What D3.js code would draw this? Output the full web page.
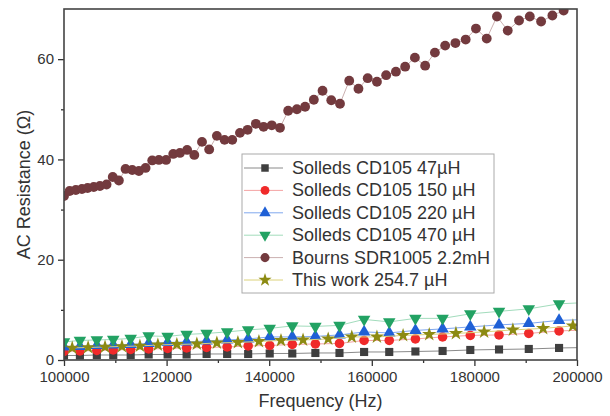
<!DOCTYPE html>
<html>
<head>
<meta charset="utf-8">
<script src="https://cdn.jsdelivr.net/npm/d3@7"></script>
<style>
  body { margin: 0; background: #fff; }
  text { font-family: "Liberation Sans", Arial, sans-serif; fill: #333; }
</style>
</head>
<body>
<div class="chart"></div>
<script>
// frequencies (Hz)
const freqLow = [100000, 103100, 106400, 109600, 113000, 116500, 120200, 123900, 127800, 131800, 135900, 140100,
  144500, 149000, 153700, 158500, 163400, 168500, 173800, 179200, 184800, 190600, 196500, 202600];
const freqStar = [101600, 104700, 108000, 111300, 114800, 118300, 122000, 125900, 129800, 133900, 138000, 142300,
  146600, 151500, 156100, 161000, 166100, 171200, 176400, 181900, 187500, 193400, 199200];
const freqBourns = [100000, 101100, 102300, 103500, 104600, 105800, 107000, 108300, 109500, 110700,
  112000, 113300, 114600, 115900, 117200, 118500, 119900, 121300, 122600, 124000,
  125400, 126900, 128300, 129800, 131300, 132800, 134300, 135800, 137400, 138900,
  140500, 142100, 143700, 145400, 147000, 148700, 150400, 152100, 153800, 155600,
  157400, 159200, 161000, 162800, 164700, 166500, 168400, 170400, 172300, 174300,
  176300, 178300, 180300, 182400, 184400, 186500, 188700, 190800, 193000, 195200, 197400];

// AC resistance (ohm)
const cd105_47 = [0.9, 0.9, 1.0, 1.0, 1.0, 1.1, 1.1, 1.1, 1.2, 1.2, 1.2, 1.3, 1.3, 1.4, 1.4, 1.6, 1.6, 1.7, 1.8, 2.0, 2.1, 2.2, 2.4, 2.5];
const cd105_150 = [1.7, 1.8, 1.9, 2.0, 2.1, 2.2, 2.3, 2.4, 2.5, 2.6, 2.8, 2.9, 3.1, 3.2, 3.3, 3.9, 3.9, 4.2, 4.6, 4.9, 5.0, 5.3, 5.8, 6.0];
const cd105_220 = [2.6, 2.7, 2.9, 3.0, 3.1, 3.3, 3.5, 3.6, 3.8, 4.0, 4.2, 4.6, 4.6, 4.7, 5.0, 5.6, 5.4, 5.9, 6.2, 6.6, 7.0, 7.3, 7.9, 8.1];
const cd105_470 = [3.6, 3.9, 4.0, 4.1, 4.3, 4.8, 4.7, 5.1, 5.3, 5.6, 6.0, 6.3, 6.8, 6.7, 6.9, 8.1, 7.6, 8.3, 8.3, 9.2, 9.7, 10.2, 11.2, 11.5];
const bourns22 = [32.7, 33.7, 33.9, 34.1, 34.3, 34.5, 34.7, 35.0, 36.5, 35.8,
  38.1, 37.9, 37.7, 38.3, 39.8, 39.9, 39.9, 41.1, 41.3, 41.9,
  40.9, 43.5, 42.0, 44.7, 43.9, 43.9, 45.3, 45.9, 47.1, 46.5,
  46.8, 46.3, 49.7, 50.0, 50.5, 51.9, 53.7, 51.8, 51.1, 55.7,
  54.1, 56.2, 55.5, 56.8, 57.5, 58.5, 60.3, 58.7, 61.3, 62.7,
  63.2, 63.9, 66.1, 64.1, 68.5, 65.7, 67.7, 68.5, 67.5, 68.7, 69.7];
const thisWork = [2.4, 2.5, 2.6, 2.7, 2.8, 3.0, 3.1, 3.2, 3.4, 3.5, 3.7, 3.9, 4.0, 4.2, 4.6, 4.6, 4.9, 5.1, 5.3, 5.6, 6.0, 6.3, 6.8];

const xTicks = [100000, 120000, 140000, 160000, 180000, 200000];
const xMinorTicks = [110000, 130000, 150000, 170000, 190000];
const yTicks = [0, 20, 40, 60];
const yMinorTicks = [10, 30, 50];

const series = [
  { name: 'Solleds CD105 47\u00b5H', x: freqLow, y: cd105_47, shape: d3.symbolSquare, size: 66, color: '#3f3f3f', line: '#8a8a8a' },
  { name: 'Solleds CD105 150 \u00b5H', x: freqLow, y: cd105_150, shape: d3.symbolCircle, size: 72, color: '#f02a2a', line: '#f4a4a4' },
  { name: 'Solleds CD105 220 \u00b5H', x: freqLow, y: cd105_220, shape: d3.symbolTriangle, size: 68, color: '#1f60d6', line: '#80a8ee' },
  { name: 'Solleds CD105 470 \u00b5H', x: freqLow, y: cd105_470, shape: d3.symbolTriangle, size: 68, flip: true, color: '#22a263', line: '#a2dcbc' },
  { name: 'Bourns SDR1005 2.2mH', x: freqBourns, y: bourns22, shape: d3.symbolCircle, size: 76, color: '#733a3e', line: '#cbb0b0' },
  { name: 'This work 254.7 \u00b5H', x: freqStar, y: thisWork, shape: d3.symbolStar, size: 64, color: '#8c8a12', line: '#dcd27a' },
];

const svgWidth = 610;
const svgHeight = 416;
const margin = { top: 9, right: 33, bottom: 56, left: 64 };
const width = svgWidth - margin.left - margin.right;
const height = svgHeight - margin.top - margin.bottom;

const xScale = d3.scaleLinear().domain([100000, 200000]).range([0, width]);
const yScale = d3.scaleLinear().domain([0, 70]).range([height, 0]);

const svg = d3.select('.chart').append('svg')
  .attr('width', svgWidth)
  .attr('height', svgHeight)
  .append('g')
  .attr('transform', `translate(${margin.left}, ${margin.top})`);

svg.append('clipPath').attr('id', 'plot-clip')
  .append('rect').attr('width', width).attr('height', height);

const plot = svg.append('g').attr('clip-path', 'url(#plot-clip)');

series.forEach((s) => {
  const pts = s.x.map((f, i) => ({ f, v: s.y[i] }));
  const line = d3.line().x((d) => xScale(d.f)).y((d) => yScale(d.v));

  plot.append('path')
    .datum(pts)
    .attr('fill', 'none')
    .attr('stroke', s.line)
    .attr('stroke-width', 1)
    .attr('d', line);

  plot.selectAll(null)
    .data(pts)
    .enter().append('path')
    .attr('d', d3.symbol(s.shape, s.size))
    .attr('fill', s.color)
    .attr('transform', (d) => `translate(${xScale(d.f)}, ${yScale(d.v)})${s.flip ? ' rotate(180)' : ''}`);
});

// axes
svg.append('g')
  .attr('transform', `translate(0, ${height})`)
  .call(d3.axisBottom(xScale).tickValues(xTicks).tickFormat(d3.format('d')).tickSize(6).tickPadding(5));
svg.append('g')
  .attr('transform', `translate(0, ${height})`)
  .call(d3.axisBottom(xScale).tickValues(xMinorTicks).tickFormat('').tickSize(3));

svg.append('g')
  .call(d3.axisLeft(yScale).tickValues(yTicks).tickSize(6).tickPadding(4));
svg.append('g')
  .call(d3.axisLeft(yScale).tickValues(yMinorTicks).tickFormat('').tickSize(3));

svg.selectAll('.tick line').attr('stroke', '#333').attr('stroke-width', 1.3);
svg.selectAll('.domain').remove();
svg.selectAll('.tick text').style('font-size', '15px').attr('fill', '#333');

// frame
svg.append('rect')
  .attr('width', width)
  .attr('height', height)
  .attr('fill', 'none')
  .attr('stroke', '#444')
  .attr('stroke-width', 1.6);

// axis titles
svg.append('text')
  .attr('x', width / 2)
  .attr('y', height + 41)
  .attr('text-anchor', 'middle')
  .attr('dominant-baseline', 'central')
  .style('font-size', '18px')
  .text('Frequency (Hz)');

svg.append('text')
  .attr('transform', `translate(${-40}, ${height / 2}) rotate(-90)`)
  .attr('text-anchor', 'middle')
  .attr('dominant-baseline', 'central')
  .style('font-size', '18px')
  .text('AC Resistance (\u03a9)');

// legend
const legend = svg.append('g').attr('transform', `translate(${242 - margin.left}, ${154 - margin.top})`);
legend.append('rect')
  .attr('width', 252)
  .attr('height', 139)
  .attr('fill', '#fff')
  .attr('stroke', '#aaa')
  .attr('stroke-width', 1);

series.forEach((s, i) => {
  const row = legend.append('g').attr('transform', `translate(0, ${14 + i * 22.4})`);
  row.append('line')
    .attr('x1', 2).attr('x2', 41)
    .attr('stroke', s.line)
    .attr('stroke-width', 1);
  row.append('path')
    .attr('d', d3.symbol(s.shape, s.size * 0.85))
    .attr('fill', s.color)
    .attr('transform', `translate(23, 0)${s.flip ? ' rotate(180)' : ''}`);
  row.append('text')
    .attr('x', 50)
    .attr('dominant-baseline', 'central')
    .style('font-size', '18px')
    .text(s.name);
});
</script>
</body>
</html>
